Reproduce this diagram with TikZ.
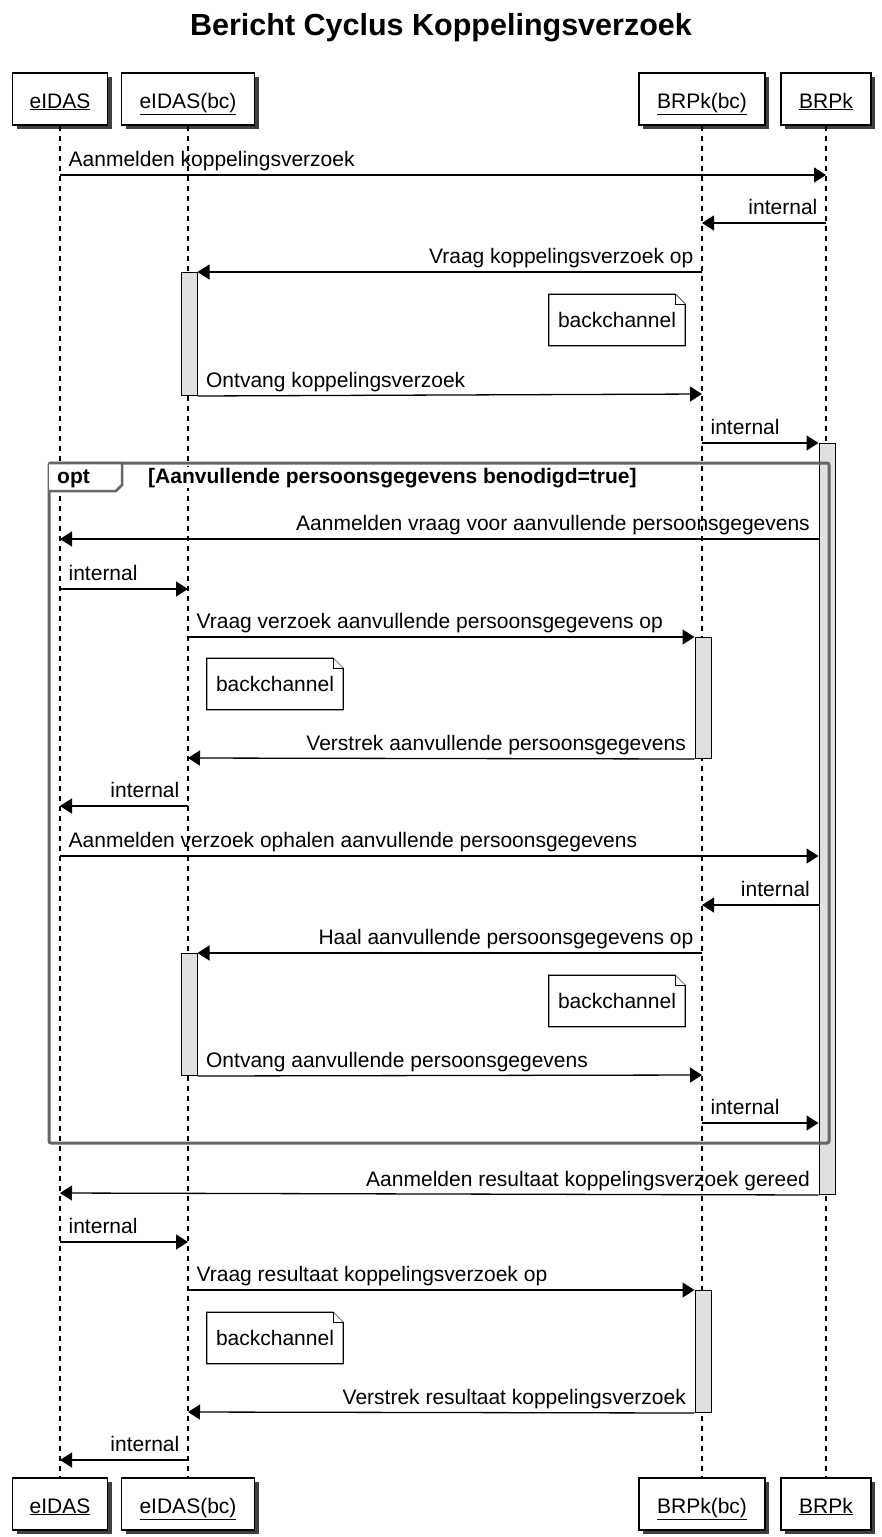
\documentclass[tikz,border=0pt]{standalone}
\usepackage{fontspec}
\setmainfont{Liberation Sans}
\usetikzlibrary{arrows.meta,shadows}

\begin{document}
\begin{tikzpicture}[x=1pt,y=-1pt,>={Triangle[length=12pt,width=15pt]},
    font=\fontsize{21}{25}\selectfont,
    actor/.style={draw,fill=white,line width=1.4pt,minimum height=52pt,inner sep=0pt,
      text height=20pt,text depth=2pt,
      drop shadow={shadow xshift=4pt,shadow yshift=-4pt,fill=black!75,opacity=1}},
    lifeline/.style={line width=1.2pt,dash pattern=on 5pt off 5pt},
    act bar/.style={draw,fill=black!12,line width=1pt,minimum width=16pt,inner sep=0pt,anchor=north},
    msg/.style={->,line width=1.3pt},
    msg lbl/.style={pos=0,anchor=base west,xshift=8pt,yshift=9pt,inner sep=0pt},
    msg lbl back/.style={pos=0,anchor=base east,xshift=-8pt,yshift=9pt,inner sep=0pt},
    note/.style={minimum width=136pt,minimum height=51pt,inner sep=0pt},
    note line/.style={line width=1.2pt,fill=white},
    frame/.style={draw=black!60,line width=3pt,rounded corners=2pt}]
    \useasboundingbox (0,0) rectangle (882,1537);
    \node[font=\bfseries\fontsize{30.5}{36}\selectfont,anchor=base] (title) at (441,35) {Bericht Cyclus Koppelingsverzoek};

    % participants
    \node[actor,minimum width=95pt] (eidas top) at (60,99) {\underline{eIDAS}};
    \node[actor,minimum width=133pt] (eidasbc top) at (188,99) {\underline{eIDAS(bc)}};
    \node[actor,minimum width=126pt] (brpkbc top) at (702,99) {\underline{BRPk(bc)}};
    \node[actor,minimum width=90pt] (brpk top) at (826,99) {\underline{BRPk}};
    \node[actor,minimum width=95pt] (eidas bot) at (60,1504) {\underline{eIDAS}};
    \node[actor,minimum width=133pt] (eidasbc bot) at (188,1504) {\underline{eIDAS(bc)}};
    \node[actor,minimum width=126pt] (brpkbc bot) at (702,1504) {\underline{BRPk(bc)}};
    \node[actor,minimum width=90pt] (brpk bot) at (826,1504) {\underline{BRPk}};
    \draw[lifeline] (eidas top) -- (eidas bot);
    \draw[lifeline] (eidasbc top) -- (eidasbc bot);
    \draw[lifeline] (brpkbc top) -- (brpkbc bot);
    \draw[lifeline] (brpk top) -- (brpk bot);

    % activations
    \node[act bar,minimum height=123pt] (eidasbc act1) at (189,272) {};
    \node[act bar,minimum height=122pt] (eidasbc act2) at (189,953) {};
    \node[act bar,minimum height=121pt] (brpkbc act1) at (703,637) {};
    \node[act bar,minimum height=122pt] (brpkbc act2) at (703,1290) {};
    \node[act bar,minimum height=751pt] (brpk act) at (827,443) {};

    % opt frame
    \draw[frame] (49,463) rectangle (829,1143);
    \draw[frame,fill=white,rounded corners=0pt,line width=2.5pt] (49,463) -- (122,463) -- (122,485) -- (116,491) -- (49,491);
    \node[font=\bfseries\fontsize{21}{25}\selectfont,anchor=base west,inner sep=0pt] (opt) at (57,483) {opt};
    \node[font=\bfseries\fontsize{21}{25}\selectfont,anchor=base west,inner sep=1pt,fill=white] (guard) at (147,483) {[Aanvullende persoonsgegevens benodigd=true]};

    % notes
    \node[note] (note1) at (617,320) {};
    \node[note] (note2) at (275,684) {};
    \node[note] (note3) at (617,1001) {};
    \node[note] (note4) at (275,1338) {};
    \foreach \n in {note1,note2,note3,note4} {
      \draw[note line] (\n.north west) -- ([xshift=-10pt]\n.north east) -- ([yshift=-10pt]\n.north east)
        -- (\n.south east) -- (\n.south west) -- cycle;
      \draw[note line,line width=1pt] ([xshift=-10pt]\n.north east) |- ([yshift=-10pt]\n.north east);
      \node at (\n) {backchannel};
    }

    % messages
    \draw[msg] (eidas top |- 0,175) -- (brpk top |- 0,175) node[msg lbl] {Aanmelden koppelingsverzoek};
    \draw[msg] (brpk top |- 0,223) -- (brpkbc top |- 0,223) node[msg lbl back] {internal};
    \draw[msg] (brpkbc top |- 0,272) -- (eidasbc act1.north east) node[msg lbl back] {Vraag koppelingsverzoek op};
    \draw[msg] (eidasbc act1.south east) -- (brpkbc top |- 0,394) node[msg lbl] {Ontvang koppelingsverzoek};
    \draw[msg] (brpkbc top |- 0,443) -- (brpk act.north west) node[msg lbl] {internal};
    \draw[msg] (brpk act.west |- 0,539) -- (eidas top |- 0,539) node[msg lbl back] {Aanmelden vraag voor aanvullende persoonsgegevens};
    \draw[msg] (eidas top |- 0,589) -- (eidasbc top |- 0,589) node[msg lbl] {internal};
    \draw[msg] (eidasbc top |- 0,637) -- (brpkbc act1.north west) node[msg lbl] {Vraag verzoek aanvullende persoonsgegevens op};
    \draw[msg] (brpkbc act1.south west) -- (eidasbc top |- 0,758) node[msg lbl back] {Verstrek aanvullende persoonsgegevens};
    \draw[msg] (eidasbc top |- 0,806) -- (eidas top |- 0,806) node[msg lbl back] {internal};
    \draw[msg] (eidas top |- 0,856) -- (brpk act.west |- 0,856) node[msg lbl] {Aanmelden verzoek ophalen aanvullende persoonsgegevens};
    \draw[msg] (brpk act.west |- 0,905) -- (brpkbc top |- 0,905) node[msg lbl back] {internal};
    \draw[msg] (brpkbc top |- 0,953) -- (eidasbc act2.north east) node[msg lbl back] {Haal aanvullende persoonsgegevens op};
    \draw[msg] (eidasbc act2.south east) -- (brpkbc top |- 0,1075) node[msg lbl] {Ontvang aanvullende persoonsgegevens};
    \draw[msg] (brpkbc top |- 0,1123) -- (brpk act.west |- 0,1123) node[msg lbl] {internal};
    \draw[msg] (brpk act.south west) -- (eidas top |- 0,1193) node[msg lbl back] {Aanmelden resultaat koppelingsverzoek gereed};
    \draw[msg] (eidas top |- 0,1242) -- (eidasbc top |- 0,1242) node[msg lbl] {internal};
    \draw[msg] (eidasbc top |- 0,1290) -- (brpkbc act2.north west) node[msg lbl] {Vraag resultaat koppelingsverzoek op};
    \draw[msg] (brpkbc act2.south west) -- (eidasbc top |- 0,1412) node[msg lbl back] {Verstrek resultaat koppelingsverzoek};
    \draw[msg] (eidasbc top |- 0,1460) -- (eidas top |- 0,1460) node[msg lbl back] {internal};
\end{tikzpicture}
\end{document}
